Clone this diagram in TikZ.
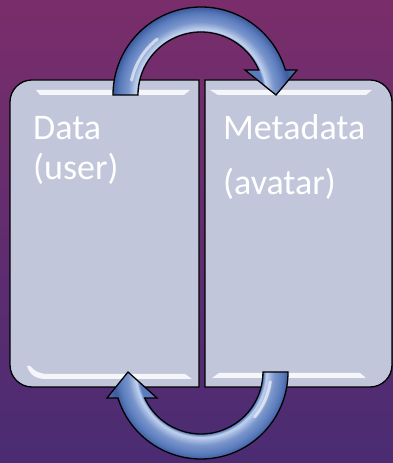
\documentclass[tikz,border=0pt]{standalone}
\usepackage{fontspec}
\setmainfont{Carlito}
\usetikzlibrary{calc}

\definecolor{bgtop}{HTML}{7A2D6B}
\definecolor{bgbot}{HTML}{4A2C73}
\definecolor{boxfill}{HTML}{C2C6DA}
\definecolor{arrowmid}{HTML}{5A7BBC}
\definecolor{arrowlight}{HTML}{C3D3EF}
\definecolor{arrowedge}{HTML}{3F5E9F}

\pgfdeclareradialshading{tubeshade}{\pgfpoint{0bp}{0bp}}{%
  color(0bp)=(arrowmid); color(15.6bp)=(arrowmid); color(16.3bp)=(arrowlight);
  color(18.3bp)=(arrowmid!70!arrowlight); color(20.4bp)=(arrowmid);
  color(21.8bp)=(arrowedge); color(22.2bp)=(arrowedge); color(25bp)=(arrowmid);
  color(50bp)=(arrowmid)}

\def\toptube{(113,368) arc[start angle=180,end angle=16.5,radius=88]
  -- (297,393) -- (276,368) -- (245,393) -- (258.8,393)
  arc[start angle=23.4,end angle=180,radius=63] -- cycle}
\def\bottube{(288,91) arc[start angle=0,end angle=-162.6,radius=87]
  -- (107,65) -- (128,91) -- (157,65) -- (144.7,65)
  arc[start angle=-155.2,end angle=0,radius=62] -- cycle}

\begin{document}
\begin{tikzpicture}[x=1pt,y=1pt,
   boxline/.style={draw=black,line width=1.3pt,fill=boxfill},
   gloss/.style={fill=white,opacity=0.85},
   boxtext/.style={anchor=base west,inner sep=0pt,text=white,
     font=\fontsize{36}{43}\selectfont},
   tubeline/.style={draw=black,line width=1.3pt},
   shine/.style={draw=white,opacity=0.6,line width=3pt,line cap=round}]
  \shade[top color=bgtop,bottom color=bgbot] (0,0) rectangle (393,463);
  \useasboundingbox (0,0) rectangle (393,463);
  \coordinate (topc) at (201,368);
  \coordinate (botc) at (201,91);

  % the two panels
  \draw[boxline] (199,76) -- (32,76) arc[start angle=270,end angle=180,radius=22]
    -- (10,361) arc[start angle=180,end angle=90,radius=22] -- (199,383) -- cycle;
  \draw[boxline] (205,76) -- (370,76) arc[start angle=-90,end angle=0,radius=22]
    -- (392,361) arc[start angle=0,end angle=90,radius=22] -- (205,383) -- cycle;
  \fill[gloss] (36,373) -- (190,373) -- (184,368) -- (40,368) -- cycle;
  \fill[gloss] (210,373) -- (372,373) -- (366,368) -- (218,368) -- cycle;
  \fill[gloss] (27,97) .. controls (30,88) and (36,84) .. (46,84) -- (192,84)
    -- (185,89) -- (48,89) .. controls (40,89) and (34,92) .. (30,97) -- cycle;
  \fill[gloss] (212,85) -- (366,85) -- (360,90) -- (219,90) -- cycle;

  \node[boxtext] (datatxt) at (33,323) {Data};
  \node[boxtext] (usertxt) at (33,283) {(user)};
  \node[boxtext] (metatxt) at (223,323) {Metadata};
  \node[boxtext] (avatartxt) at (223,268) {(avatar)};

  % curved arrows
  \begin{scope}
    \clip \toptube;
    \shade[shading=tubeshade] (topc) circle[radius=100];
    \draw[shine] (topc) ++(168:71) arc[start angle=168,end angle=128,radius=71];
  \end{scope}
  \draw[tubeline] \toptube;
  \begin{scope}
    \clip \bottube;
    \shade[shading=tubeshade] (botc) circle[radius=100];
    \draw[shine] (botc) ++(-8:70) arc[start angle=-8,end angle=-40,radius=70];
  \end{scope}
  \draw[tubeline] \bottube;
\end{tikzpicture}
\end{document}
